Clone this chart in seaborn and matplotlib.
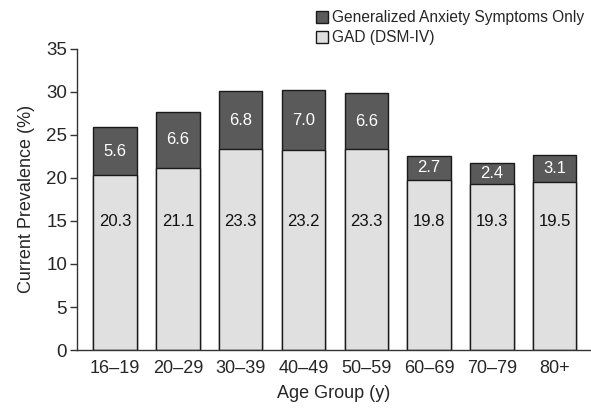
import matplotlib
matplotlib.use("Agg")
import matplotlib.pyplot as plt
import seaborn as sns
import pandas as pd
from matplotlib.patches import Patch

age_groups = ["16–19", "20–29", "30–39", "40–49", "50–59", "60–69", "70–79", "80+"]
gad_dsm4 = [20.3, 21.1, 23.3, 23.2, 23.3, 19.8, 19.3, 19.5]
symptoms_only = [5.6, 6.6, 6.8, 7.0, 6.6, 2.7, 2.4, 3.1]
yticks = [0, 5, 10, 15, 20, 25, 30, 35]

sns.set_theme(style="white")
plt.rcParams["font.family"] = ["Liberation Sans", "DejaVu Sans"]

df = pd.DataFrame({"age": age_groups, "gad": gad_dsm4, "sym": symptoms_only})
df["total"] = df["gad"] + df["sym"]

dark = "#5a5a5a"
light = "#e0e0e0"
edge = "#1a1a1a"

fig = plt.figure(figsize=(5.91, 4.09), dpi=100)
ax = fig.add_axes([0.130, 0.144, 0.868, 0.737])

sns.barplot(data=df, x="age", y="total", color=dark, saturation=1, width=0.69,
            edgecolor=edge, linewidth=1.0, ax=ax)
sns.barplot(data=df, x="age", y="gad", color=light, saturation=1, width=0.69,
            edgecolor=edge, linewidth=1.0, ax=ax)

for i, (g, s) in enumerate(zip(gad_dsm4, symptoms_only)):
    ax.text(i, 14.9, f"{g:.1f}", ha="center", va="center", fontsize=12, color="#111111")
    ax.text(i, g + s / 2, f"{s:.1f}", ha="center", va="center", fontsize=12, color="white")

ax.set_xlim(-0.61, 7.56)
ax.set_ylim(0, 35)
ax.set_yticks(yticks)
ax.set_yticklabels([str(t) for t in yticks], fontsize=13.5)
ax.tick_params(axis="x", labelsize=13, length=0, pad=7)
ax.tick_params(axis="y", left=True, length=5, width=1, color="#333333", pad=2)
ax.set_xlabel("Age Group (y)", fontsize=13, labelpad=6)
ax.set_ylabel("Current Prevalence (%)", fontsize=13, labelpad=8)

for side in ["top", "right"]:
    ax.spines[side].set_visible(False)
for side in ["left", "bottom"]:
    ax.spines[side].set_color("#333333")
    ax.spines[side].set_linewidth(1.0)

handles = [Patch(facecolor=dark, edgecolor=edge, linewidth=1.0, label="Generalized Anxiety Symptoms Only"),
           Patch(facecolor=light, edgecolor=edge, linewidth=1.0, label="GAD (DSM-IV)")]
fig.legend(handles=handles, loc="upper left", bbox_to_anchor=(0.513, 1.005), frameon=False,
           fontsize=11.2, handlelength=0.78, handleheight=0.78, handletextpad=0.25,
           labelspacing=0.3, borderpad=0.3)

fig.savefig("out.png", dpi=100)
